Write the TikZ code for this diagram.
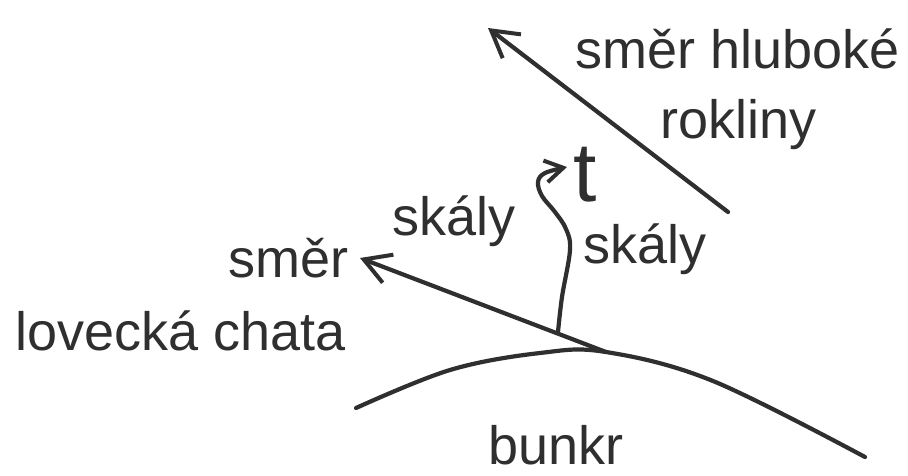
\documentclass[tikz,border=0pt]{standalone}
\usepackage{fontspec}
\setmainfont{Liberation Sans}
\usetikzlibrary{arrows.meta}
\definecolor{ink}{HTML}{2F2F2F}
\begin{document}
\begin{tikzpicture}[x=1pt,y=-1pt,
  lbl/.style={anchor=base west, inner sep=0pt, text=ink, font=\fontsize{54}{60}\selectfont},
  ln/.style={draw=ink, line width=4.2pt, line cap=round, line join=round},
  arr/.style={ln, -{Straight Barb[length=26pt,width=30pt,line width=4pt]}},
  arrsmall/.style={ln, -{Straight Barb[length=18pt,width=22pt,line width=4pt]}}]
\useasboundingbox[fill=white] (0,0) rectangle (908,475);
% labels
\node[lbl] (hl) at (575,68) {směr hluboké};
\node[lbl] (rk) at (660,138) {rokliny};
\node[lbl] (skl) at (392,235) {skály};
\node[lbl] (skr) at (583,263) {skály};
\node[lbl] (sm) at (228,277) {směr};
\node[lbl] (lc) at (15,350) {lovecká chata};
\node[lbl] (bk) at (488,464) {bunkr};
\node[anchor=base west, inner sep=0pt, text=ink, font=\fontsize{84}{90}\selectfont] (t) at (573,201) {t};
% bunkr curve
\coordinate (c1) at (356,408);
\coordinate (c2) at (450,370);
\coordinate (c3) at (540,353);
\coordinate (c4) at (606,352);
\coordinate (c5) at (713,381);
\coordinate (c6) at (865,457);
\draw[ln] plot[smooth, tension=0.6] coordinates {(c1) (c2) (c3) (c4) (c5) (c6)};
% arrow to lovecka chata
\coordinate (smtip) at (360,258);
\draw[arr] (c4) -- (smtip);
% arrow to rokliny
\coordinate (lt) at (728,212);
\coordinate (lh) at (488,28);
\draw[arr] (lt) -- (lh);
% wavy arrow
\coordinate (w0) at (558,332);
\coordinate (w1) at (562,297);
\coordinate (w2) at (570,250);
\coordinate (w3) at (566,229);
\coordinate (w4) at (555,212);
\coordinate (w5) at (542,196);
\coordinate (w6) at (538,182);
\coordinate (w7) at (545,173);
\coordinate (w8) at (567,167);
\draw[arrsmall] plot[smooth, tension=0.6] coordinates {(w0) (w1) (w2) (w3) (w4) (w5) (w6) (w7) (w8)};
\end{tikzpicture}
\end{document}
